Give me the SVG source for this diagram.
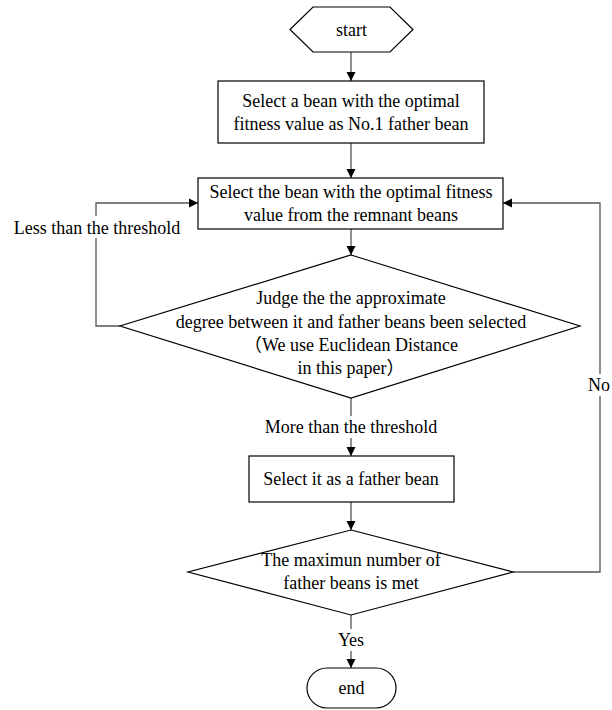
<svg xmlns="http://www.w3.org/2000/svg" width="612" height="710" viewBox="0 0 612 710">
<defs>
<marker id="arr" markerWidth="10" markerHeight="10" refX="9" refY="5" orient="auto" markerUnits="userSpaceOnUse">
<path d="M0,0.5 L9,5 L0,9.5 Z" fill="#000"/>
</marker>
<style>
.shape{fill:#fff;stroke:#000;stroke-width:1.2}
.conn{fill:none;stroke:#555;stroke-width:1.3}
text{font-family:"Liberation Serif","Times New Roman","Noto Sans CJK SC",serif;font-size:18px;fill:#000;text-anchor:middle}
.lbl{stroke:#fff;stroke-width:0}
</style>
</defs>
<rect width="612" height="710" fill="#fff"/>
<g id="connectors">
<line class="conn" x1="351" y1="52" x2="351" y2="81" marker-end="url(#arr)"/>
<line class="conn" x1="351" y1="143" x2="351" y2="178" marker-end="url(#arr)"/>
<line class="conn" x1="351" y1="229" x2="351" y2="255" marker-end="url(#arr)"/>
<polyline class="conn" points="120,326 96,326 96,203 198,203" marker-end="url(#arr)"/>
<line class="conn" x1="351" y1="398" x2="351" y2="456" marker-end="url(#arr)"/>
<line class="conn" x1="351" y1="502" x2="351" y2="530" marker-end="url(#arr)"/>
<polyline class="conn" points="513,572 600,572 600,203 503,203" marker-end="url(#arr)"/>
<line class="conn" x1="351" y1="615" x2="351" y2="668" marker-end="url(#arr)"/>
<rect x="14" y="216" width="168" height="22" fill="#fff"/>
<text x="97" y="234">Less than the threshold</text>
<rect x="262" y="416" width="178" height="22" fill="#fff"/>
<text x="351" y="433">More than the threshold</text>
<rect x="586" y="374" width="26" height="22" fill="#fff"/>
<text x="599" y="391">No</text>
<rect x="334" y="629" width="34" height="22" fill="#fff"/>
<text x="351" y="646">Yes</text>
</g>
<g id="start">
<polygon class="shape" points="290,29.5 313,7 390,7 413,29.5 390,52 313,52"/>
<text x="351.5" y="35.5">start</text>
</g>
<g id="select-first">
<rect class="shape" x="218" y="81" width="266" height="62"/>
<text x="351" y="107">Select a bean with the optimal</text>
<text x="351" y="130">fitness value as No.1 father bean</text>
</g>
<g id="select-remnant">
<rect class="shape" x="198" y="178" width="305" height="51"/>
<text x="351" y="198">Select the bean with the optimal fitness</text>
<text x="351" y="221">value from the remnant beans</text>
</g>
<g id="judge">
<polygon class="shape" points="351,255 580,326 351,398 120,326"/>
<text x="351" y="304">Judge the the approximate</text>
<text x="351" y="328">degree between it and father beans been selected</text>
<text x="351" y="351">（We use Euclidean Distance</text>
<text x="351" y="374">in this paper）</text>
</g>
<g id="select-father">
<rect class="shape" x="249" y="456" width="205" height="46"/>
<text x="351" y="485">Select it as a father bean</text>
</g>
<g id="max-check">
<polygon class="shape" points="351,530 513,572 351,615 188,572"/>
<text x="351" y="566">The maximun number of</text>
<text x="351" y="589">father beans is met</text>
</g>
<g id="end">
<rect class="shape" x="307" y="668" width="89" height="40" rx="20" ry="20"/>
<text x="351.5" y="694">end</text>
</g>
</svg>
